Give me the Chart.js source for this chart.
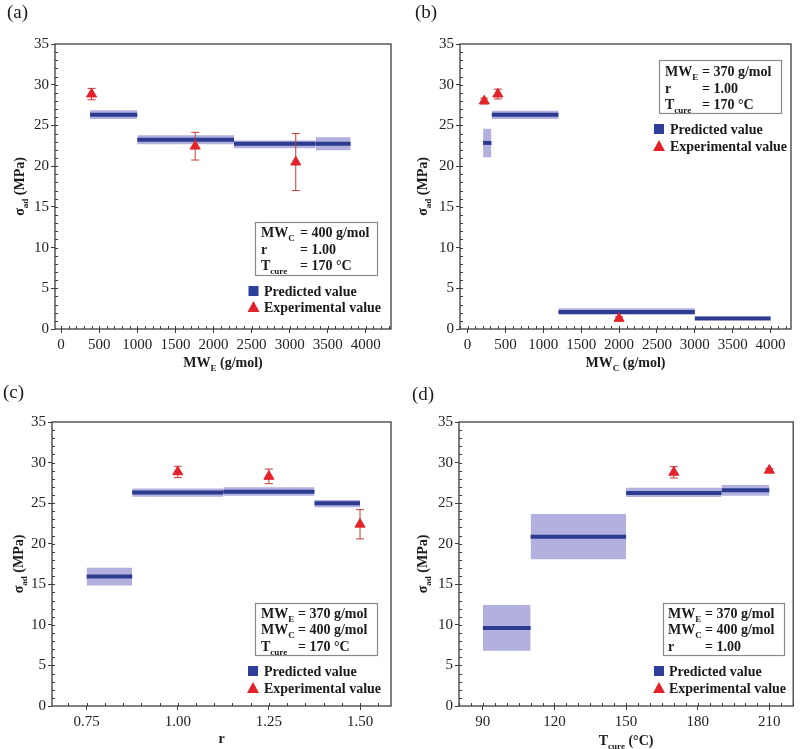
<!DOCTYPE html>
<html>
<head>
<meta charset="utf-8">
<script src="https://cdn.jsdelivr.net/npm/chart.js@4.4.1/dist/chart.umd.min.js"></script>
<style>
    html, body { margin: 0; padding: 0; background: #fff; }
    #wrap { position: relative; width: 800px; height: 749px; }
    canvas { position: absolute; }
</style>
</head>
<body>
<div id="wrap">
    <canvas id="pa" width="400" height="375" style="left:0;top:0"></canvas>
    <canvas id="pb" width="400" height="375" style="left:400px;top:0"></canvas>
    <canvas id="pc" width="400" height="374" style="left:0;top:375px"></canvas>
    <canvas id="pd" width="400" height="374" style="left:400px;top:375px"></canvas>
</div>
<script>
// shared y axis
const yTicks = [0, 5, 10, 15, 20, 25, 30, 35];

// (a) MW_E varied
const aSegFrom = [380, 1000, 2270, 3340];
const aSegTo = [1000, 2270, 3340, 3800];
const aPred = [26.3, 23.25, 22.75, 22.75];
const aPredLo = [25.8, 22.7, 22.2, 21.95];
const aPredHi = [26.85, 23.8, 23.15, 23.55];
const aExpX = [400, 1760, 3080];
const aExpY = [28.85, 22.45, 20.5];
const aExpErr = [0.7, 1.7, 3.5];
const aXTicks = [0, 500, 1000, 1500, 2000, 2500, 3000, 3500, 4000];

// (b) MW_C varied
const bSegFrom = [205, 320, 1200, 3000];
const bSegTo = [315, 1200, 3000, 4000];
const bPred = [22.85, 26.3, 2.1, 1.3];
const bPredLo = [21.1, 25.8, 1.75, 1.1];
const bPredHi = [24.6, 26.8, 2.55, 1.55];
const bExpX = [220, 400, 2000];
const bExpY = [28.0, 28.85, 1.3];
const bExpErr = [0.35, 0.6, 0.2];
const bXTicks = [0, 500, 1000, 1500, 2000, 2500, 3000, 3500, 4000];

// (c) r varied
const cSegFrom = [0.75, 0.875, 1.125, 1.375];
const cSegTo = [0.875, 1.125, 1.375, 1.5];
const cPred = [15.95, 26.3, 26.4, 25.0];
const cPredLo = [14.85, 25.8, 25.9, 24.5];
const cPredHi = [17.05, 26.8, 26.95, 25.4];
const cExpX = [1.0, 1.25, 1.5];
const cExpY = [28.85, 28.3, 22.4];
const cExpErr = [0.7, 0.9, 1.8];
const cXTicks = [0.75, 1.0, 1.25, 1.5];

// (d) T_cure varied
const dSegFrom = [90, 110, 150, 190];
const dSegTo = [110, 150, 190, 210];
const dPred = [9.6, 20.85, 26.25, 26.6];
const dPredLo = [6.8, 18.1, 25.75, 25.9];
const dPredHi = [12.45, 23.65, 26.9, 27.25];
const dExpX = [170, 210];
const dExpY = [28.8, 29.05];
const dExpErr = [0.7, 0.2];
const dXTicks = [90, 120, 150, 180, 210];

const FONT = '"Liberation Serif", "Times New Roman", serif';
const BAND = 'rgba(158,156,214,0.8)';
const LINE = '#2c3a8f';
const SQUARE = '#2d3f9c';
const RED = '#e3232a';
const ERR = '#c43a3c';
const FRAME = '#3c3c3c';

// split "MW_{E} (g/mol)" into [text, isSub] pieces
function parts(s) {
    const out = [];
    const re = /_\{([^}]*)\}/g;
    let last = 0, m;
    while ((m = re.exec(s))) {
        if (m.index > last) out.push([s.slice(last, m.index), false]);
        out.push([m[1], true]);
        last = re.lastIndex;
    }
    if (last < s.length) out.push([s.slice(last), false]);
    return out;
}

function setFont(ctx, size, sub, weight) {
    ctx.font = weight + ' ' + (sub ? Math.round(size * 0.66) : size) + 'px ' + FONT;
}

function richWidth(ctx, s, size, weight) {
    let w = 0;
    for (const [t, sub] of parts(s)) {
        setFont(ctx, size, sub, weight);
        w += ctx.measureText(t).width;
    }
    return w;
}

function drawRich(ctx, s, x, y, size, weight) {
    ctx.textBaseline = 'alphabetic';
    ctx.textAlign = 'left';
    for (const [t, sub] of parts(s)) {
        setFont(ctx, size, sub, weight);
        ctx.fillText(t, x, y + (sub ? size * 0.3 : 0));
        x += ctx.measureText(t).width;
    }
}

function makePanel(id, p) {
    const canvas = document.getElementById(id);
    const W = canvas.width, H = canvas.height;
    const datasets = [];

    // experimental points on top
    datasets.push({
        data: p.expX.map((x, i) => ({x: x, y: p.expY[i]})),
        showLine: false,
        pointStyle: 'triangle',
        pointRadius: 5.8,
        pointBackgroundColor: RED,
        pointBorderColor: RED,
        pointBorderWidth: 1,
        order: 0
    });
    p.expX.forEach((x, i) => {
        datasets.push({
            data: [{x: x, y: p.expY[i] - p.expErr[i]}, {x: x, y: p.expY[i] + p.expErr[i]}],
            borderColor: ERR,
            borderWidth: 1,
            pointStyle: 'line',
            pointRadius: 4,
            pointBorderColor: ERR,
            pointBorderWidth: 1,
            order: 1
        });
    });
    p.segFrom.forEach((x0, i) => {
        datasets.push({
            data: [{x: x0, y: p.pred[i]}, {x: p.segTo[i], y: p.pred[i]}],
            borderColor: LINE,
            borderWidth: 4,
            borderCapStyle: 'butt',
            pointRadius: 0,
            order: 2
        });
        datasets.push({
            data: [{x: x0, y: p.predHi[i]}, {x: p.segTo[i], y: p.predHi[i]}],
            borderColor: 'rgba(0,0,0,0)',
            borderWidth: 0,
            pointRadius: 0,
            fill: {value: p.predLo[i]},
            backgroundColor: BAND,
            order: 3
        });
    });

    const decor = {
        id: 'decor',
        afterDraw(chart) {
            const ctx = chart.ctx;
            const a = chart.chartArea;
            const xs = chart.scales.x, ys = chart.scales.y;
            ctx.save();

            // frame
            ctx.strokeStyle = FRAME;
            ctx.lineWidth = 1.3;
            ctx.strokeRect(a.left, a.top, a.right - a.left, a.bottom - a.top);

            // minor ticks, pointing inward
            ctx.lineWidth = 1;
            ctx.beginPath();
            const n0 = Math.ceil(p.xMin / p.xMinor - 1e-6), n1 = Math.floor(p.xMax / p.xMinor + 1e-6);
            for (let n = n0; n <= n1; n++) {
                const px = Math.round(xs.getPixelForValue(n * p.xMinor)) + 0.5;
                ctx.moveTo(px, a.bottom);
                ctx.lineTo(px, a.bottom - 3);
            }
            for (let v = 1; v < 35; v++) {
                const py = Math.round(ys.getPixelForValue(v)) + 0.5;
                ctx.moveTo(a.left, py);
                ctx.lineTo(a.left + 3, py);
            }
            ctx.stroke();

            ctx.fillStyle = '#1a1a1a';
            // panel label
            ctx.font = '19px ' + FONT;
            ctx.textBaseline = 'middle';
            ctx.fillText(p.label, p.labelX, p.labelY);

            // axis titles
            const xw = richWidth(ctx, p.xTitle, 14, 'bold');
            drawRich(ctx, p.xTitle, (a.left + a.right) / 2 - xw / 2, p.xTitleY + 5, 14, 'bold');
            const yt = 'σ_{ad} (MPa)';
            const yw = richWidth(ctx, yt, 14, 'bold');
            ctx.save();
            ctx.translate(p.yTitleX, (a.top + a.bottom) / 2);
            ctx.rotate(-Math.PI / 2);
            drawRich(ctx, yt, -yw / 2, 5, 14, 'bold');
            ctx.restore();

            // condition box
            const b = p.box;
            ctx.fillStyle = '#fff';
            ctx.fillRect(b.x, b.y, b.w, b.h);
            ctx.strokeStyle = '#8a8a8a';
            ctx.lineWidth = 1.2;
            ctx.strokeRect(b.x + 0.5, b.y + 0.5, b.w, b.h);
            ctx.fillStyle = '#1a1a1a';
            p.boxLines.forEach((ln, i) => {
                drawRich(ctx, ln[0], b.textX, b.rows[i] + 5, 14, 'bold');
                drawRich(ctx, ln[1], b.col, b.rows[i] + 5, 14, 'bold');
            });

            // legend
            const lg = p.legend;
            ctx.fillStyle = SQUARE;
            ctx.fillRect(lg.x - 5, lg.y1 - 5, 10, 10);
            ctx.fillStyle = RED;
            ctx.beginPath();
            ctx.moveTo(lg.x, lg.y2 - 6);
            ctx.lineTo(lg.x + 6, lg.y2 + 5);
            ctx.lineTo(lg.x - 6, lg.y2 + 5);
            ctx.closePath();
            ctx.fill();
            ctx.fillStyle = '#1a1a1a';
            drawRich(ctx, 'Predicted value', lg.textX, lg.y1 + 5, 14, 'bold');
            drawRich(ctx, 'Experimental value', lg.textX, lg.y2 + 5, 14, 'bold');

            ctx.restore();
        }
    };

    const gridOpts = {drawOnChartArea: false, drawTicks: true, tickLength: 4, color: FRAME, lineWidth: 1};

    return new Chart(canvas, {
        type: 'line',
        data: {datasets: datasets},
        options: {
            responsive: false,
            animation: false,
            events: [],
            layout: {padding: {top: p.area.t, right: W - p.area.r, left: 0, bottom: 0}},
            plugins: {legend: {display: false}, tooltip: {enabled: false}},
            scales: {
                x: {
                    type: 'linear',
                    min: p.xMin,
                    max: p.xMax,
                    afterBuildTicks: s => { s.ticks = p.xTicks.map(v => ({value: v})); },
                    afterFit: s => { s.height = H - p.area.b; },
                    grid: gridOpts,
                    border: {display: false},
                    ticks: {
                        font: {family: FONT, size: 15},
                        color: '#222',
                        padding: 3,
                        maxRotation: 0,
                        autoSkip: false,
                        callback: v => p.xFmt(v)
                    }
                },
                y: {
                    type: 'linear',
                    min: 0,
                    max: 35,
                    afterBuildTicks: s => { s.ticks = yTicks.map(v => ({value: v})); },
                    afterFit: s => { s.width = p.area.l; },
                    grid: gridOpts,
                    border: {display: false},
                    ticks: {
                        font: {family: FONT, size: 15},
                        color: '#222',
                        padding: 2
                    }
                }
            }
        },
        plugins: [decor]
    });
}

makePanel('pa', {
    segFrom: aSegFrom, segTo: aSegTo, pred: aPred, predLo: aPredLo, predHi: aPredHi,
    expX: aExpX, expY: aExpY, expErr: aExpErr,
    xMin: -80, xMax: 4330, xTicks: aXTicks, xMinor: 100, xFmt: v => String(v),
    area: {l: 55, t: 44, r: 391, b: 329},
    label: '(a)', labelX: 7, labelY: 13,
    xTitle: 'MW_{E} (g/mol)', xTitleY: 362, yTitleX: 19,
    box: {x: 255, y: 222, w: 122, h: 53, textX: 261, col: 300, rows: [232, 248.5, 265]},
    boxLines: [['MW_{C}', '= 400 g/mol'], ['r', '= 1.00'], ['T_{cure}', '= 170 °C']],
    legend: {x: 253.5, y1: 291, y2: 307, textX: 264}
});

makePanel('pb', {
    segFrom: bSegFrom, segTo: bSegTo, pred: bPred, predLo: bPredLo, predHi: bPredHi,
    expX: bExpX, expY: bExpY, expErr: bExpErr,
    xMin: -100, xMax: 4270, xTicks: bXTicks, xMinor: 100, xFmt: v => String(v),
    area: {l: 60, t: 44, r: 391, b: 329},
    label: '(b)', labelX: 15, labelY: 13,
    xTitle: 'MW_{C} (g/mol)', xTitleY: 362, yTitleX: 22,
    box: {x: 259, y: 60, w: 122, h: 53, textX: 265, col: 302, rows: [71, 87.5, 104]},
    boxLines: [['MW_{E}', '= 370 g/mol'], ['r', '= 1.00'], ['T_{cure}', '= 170 °C']],
    legend: {x: 259, y1: 129, y2: 146, textX: 270}
});

makePanel('pc', {
    segFrom: cSegFrom, segTo: cSegTo, pred: cPred, predLo: cPredLo, predHi: cPredHi,
    expX: cExpX, expY: cExpY, expErr: cExpErr,
    xMin: 0.655, xMax: 1.585, xTicks: cXTicks, xMinor: 0.05, xFmt: v => v.toFixed(2),
    area: {l: 52, t: 47, r: 391, b: 331},
    label: '(c)', labelX: 3, labelY: 18,
    xTitle: 'r', xTitleY: 363, yTitleX: 18,
    box: {x: 255, y: 228, w: 122, h: 52, textX: 261, col: 298, rows: [237.5, 254, 271]},
    boxLines: [['MW_{E}', '= 370 g/mol'], ['MW_{C}', '= 400 g/mol'], ['T_{cure}', '= 170 °C']],
    legend: {x: 253, y1: 296, y2: 313, textX: 264}
});

makePanel('pd', {
    segFrom: dSegFrom, segTo: dSegTo, pred: dPred, predLo: dPredLo, predHi: dPredHi,
    expX: dExpX, expY: dExpY, expErr: dExpErr,
    xMin: 80, xMax: 220, xTicks: dXTicks, xMinor: 5, xFmt: v => String(v),
    area: {l: 59, t: 47, r: 396, b: 331},
    label: '(d)', labelX: 12, labelY: 20,
    xTitle: 'T_{cure} (°C)', xTitleY: 365, yTitleX: 22,
    box: {x: 263, y: 228, w: 121, h: 52, textX: 268, col: 305, rows: [237.5, 254, 271]},
    boxLines: [['MW_{E}', '= 370 g/mol'], ['MW_{C}', '= 400 g/mol'], ['r', '= 1.00']],
    legend: {x: 259, y1: 296, y2: 313, textX: 269}
});
</script>
</body>
</html>
